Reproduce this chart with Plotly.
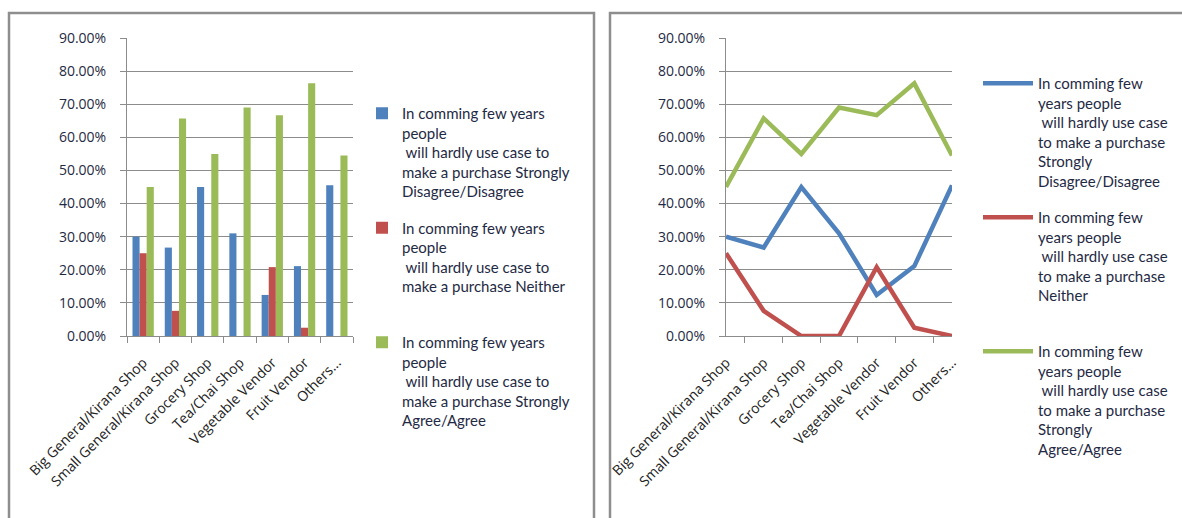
import plotly.graph_objects as go

# Shop types surveyed
categories = [
    "Big General/Kirana Shop",
    "Small General/Kirana Shop",
    "Grocery Shop",
    "Tea/Chai Shop",
    "Vegetable Vendor",
    "Fruit Vendor",
    "Others...",
]

# Share of respondents per response (fraction of 1)
disagree = [0.30, 0.267, 0.45, 0.31, 0.124, 0.211, 0.455]
neither = [0.25, 0.076, 0.0, 0.0, 0.208, 0.025, 0.0]
agree = [0.45, 0.657, 0.55, 0.69, 0.667, 0.763, 0.545]

series_values = [disagree, neither, agree]
colors = ["#4F81BD", "#C0504D", "#9BBB59"]

# Legend labels (bar chart wraps differently from the line chart)
bar_names = [
    "In comming few years<br>people<br> will hardly use case to<br>make a purchase Strongly<br>Disagree/Disagree",
    "In comming few years<br>people<br> will hardly use case to<br>make a purchase Neither<br> ",
    "In comming few years<br>people<br> will hardly use case to<br>make a purchase Strongly<br>Agree/Agree",
]
line_names = [
    "In comming few<br>years people<br> will hardly use case<br>to make a purchase<br>Strongly<br>Disagree/Disagree",
    "In comming few<br>years people<br> will hardly use case<br>to make a purchase<br>Neither<br> ",
    "In comming few<br>years people<br> will hardly use case<br>to make a purchase<br>Strongly<br>Agree/Agree",
]

y_ticks = [0.0, 0.1, 0.2, 0.3, 0.4, 0.5, 0.6, 0.7, 0.8, 0.9]

W, H = 1182, 518
FONT = "Lato"
TICK_FONT = "Open Sans"
TEXT = "#1f2a44"
GRID = "#8c8c8c"

fig = go.Figure()

for i, (vals, col) in enumerate(zip(series_values, colors)):
    fig.add_trace(go.Bar(
        x=categories, y=vals, name=bar_names[i], marker_color=col,
        marker_line_width=0, xaxis="x", yaxis="y",
        legend="legend", legendgroup=f"b{i}",
    ))

for i, (vals, col) in enumerate(zip(series_values, colors)):
    fig.add_trace(go.Scatter(
        x=categories, y=vals, name=line_names[i], mode="lines",
        line=dict(color=col, width=4.5), xaxis="x2", yaxis="y2",
        legend="legend2", legendgroup=f"l{i}",
    ))


def px_x(v):
    return v / W


def px_y(v):
    return 1 - v / H


x_common = dict(
    type="category", tickangle=-45, ticks="outside", tickson="boundaries",
    ticklen=6, tickcolor=GRID, showline=True, linecolor=GRID, linewidth=1,
    showgrid=False, automargin=False, ticklabelstandoff=12,
    tickfont=dict(family=TICK_FONT, size=14, color="#222222"),
    fixedrange=True,
)
y_common = dict(
    range=[0, 0.9], tickvals=y_ticks, tickformat=".2%", ticks="outside",
    ticklen=6, tickcolor=GRID, showline=True, linecolor=GRID, linewidth=1,
    showgrid=True, gridcolor=GRID, gridwidth=1, zeroline=False,
    ticklabelstandoff=11, automargin=False,
    tickfont=dict(family=TICK_FONT, size=14, color=TEXT), fixedrange=True,
)

ydom = [px_y(336), px_y(38)]

legend_common = dict(
    font=dict(family=FONT, size=15, color=TEXT), valign="top",
    bgcolor="rgba(0,0,0,0)", tracegroupgap=14, xanchor="left", yanchor="top",
)

fig.update_layout(
    template="none",
    width=W, height=H, margin=dict(l=0, r=0, t=0, b=0, autoexpand=False),
    paper_bgcolor="white", plot_bgcolor="white",
    barmode="group", bargap=0.34, bargroupgap=0,
    xaxis=dict(domain=[px_x(127), px_x(353)], anchor="y", **x_common),
    yaxis=dict(domain=ydom, anchor="x", **y_common),
    xaxis2=dict(domain=[px_x(726), px_x(952)], anchor="y2", **x_common),
    yaxis2=dict(domain=ydom, anchor="x2", **y_common),
    legend=dict(x=px_x(362), y=px_y(97), itemwidth=30, **legend_common),
    legend2=dict(x=px_x(978), y=px_y(67), itemwidth=50, **legend_common),
    shapes=[
        dict(type="rect", xref="paper", yref="paper",
             x0=px_x(9), x1=px_x(594), y0=px_y(530), y1=px_y(13),
             line=dict(color="#8e8e8e", width=2.5), fillcolor="rgba(0,0,0,0)"),
        dict(type="rect", xref="paper", yref="paper",
             x0=px_x(610), x1=px_x(1195), y0=px_y(530), y1=px_y(13),
             line=dict(color="#8e8e8e", width=2.5), fillcolor="rgba(0,0,0,0)"),
    ],
)

fig.write_html("out.html")
